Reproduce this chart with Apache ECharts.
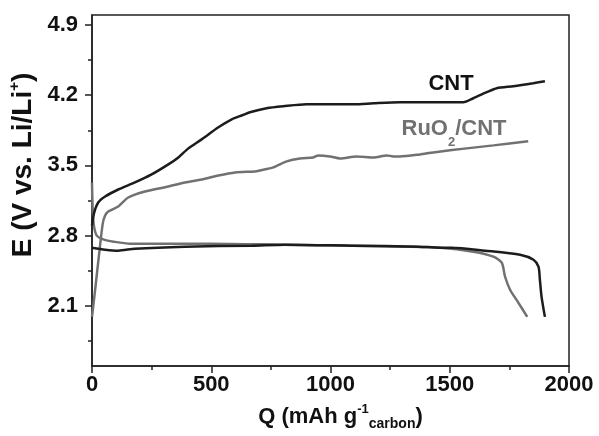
<!DOCTYPE html>
<html><head><meta charset="utf-8">
<script src="https://cdn.jsdelivr.net/npm/echarts@6/dist/echarts.min.js"></script>
<style>html,body{margin:0;padding:0;background:#fff}#c{width:599px;height:436px}</style>
</head><body><div id="c"></div>
<script>
// CNT charge (upper black curve)
const cntChargeQ = [0, 8, 26, 55, 110, 180, 250, 320, 362, 404, 460, 530, 586, 630, 662, 732, 802, 900, 1040, 1100, 1180, 1291, 1375, 1431, 1557, 1599, 1655, 1697, 1767, 1850, 1899];
const cntChargeE = [2.90, 3.02, 3.13, 3.19, 3.26, 3.33, 3.41, 3.51, 3.58, 3.67, 3.76, 3.88, 3.96, 4.00, 4.03, 4.07, 4.09, 4.11, 4.11, 4.11, 4.12, 4.13, 4.13, 4.13, 4.13, 4.17, 4.23, 4.27, 4.29, 4.32, 4.34];
// CNT discharge (lower black curve)
const cntDischargeQ = [0, 55, 110, 180, 390, 670, 810, 1089, 1368, 1459, 1508, 1648, 1795, 1851, 1872, 1878, 1885, 1899];
const cntDischargeE = [2.68, 2.66, 2.65, 2.67, 2.69, 2.70, 2.71, 2.70, 2.69, 2.68, 2.68, 2.65, 2.61, 2.56, 2.49, 2.36, 2.19, 1.99];
// RuO2/CNT charge (upper gray curve)
const ruChargeQ = [0, 15, 30, 45, 55, 68, 110, 152, 222, 320, 390, 460, 530, 600, 683, 704, 760, 816, 872, 928, 949, 998, 1040, 1110, 1180, 1236, 1263, 1291, 1375, 1431, 1571, 1683, 1829];
const ruChargeE = [1.99, 2.30, 2.62, 2.92, 3.00, 3.04, 3.09, 3.18, 3.24, 3.29, 3.33, 3.36, 3.40, 3.43, 3.44, 3.45, 3.48, 3.54, 3.57, 3.58, 3.60, 3.59, 3.57, 3.59, 3.58, 3.60, 3.59, 3.59, 3.61, 3.63, 3.67, 3.70, 3.74];
// RuO2/CNT discharge (lower gray curve)
const ruDischargeQ = [0, 3, 8, 20, 50, 90, 160, 300, 500, 800, 1100, 1300, 1459, 1599, 1683, 1718, 1732, 1753, 1788, 1825];
const ruDischargeE = [3.33, 3.05, 2.90, 2.80, 2.76, 2.74, 2.72, 2.72, 2.72, 2.71, 2.70, 2.69, 2.68, 2.64, 2.59, 2.53, 2.39, 2.26, 2.13, 1.99];

const yMajorTicks = [2.1, 2.8, 3.5, 4.2, 4.9];
const yMinorTicks = [1.75, 2.45, 3.15, 3.85, 4.55];

function zip(q, e) { return q.map((v, i) => [v, e[i]]); }

const FONT = '"Liberation Sans", Arial, Helvetica, sans-serif';
const AX = '#222';
const BLACK = '#1c1c1c';
const GRAY = '#717171';

const chart = echarts.init(document.getElementById('c'), null, { renderer: 'canvas' });
chart.setOption({
  animation: false,
  backgroundColor: '#fff',
  grid: { left: 92, right: 30, top: 15, bottom: 70, show: true, borderColor: AX, borderWidth: 1.5, backgroundColor: 'transparent' },
  xAxis: {
    type: 'value', min: 0, max: 2000, interval: 500,
    axisLine: { show: true, lineStyle: { color: AX, width: 1.5 } },
    axisTick: { show: true, length: 7, lineStyle: { color: AX, width: 1.5 } },
    minorTick: { show: true, splitNumber: 2, length: 4, lineStyle: { color: AX, width: 1.5 } },
    splitLine: { show: false },
    axisLabel: { formatter: v => String(v), fontFamily: FONT, fontWeight: 'bold', fontSize: 22, color: '#111', margin: 8 },
    name: '{a|Q (mAh g}{sup|-1}{sub|carbon}{a|)}',
    nameLocation: 'middle', nameGap: 37,
    nameTextStyle: {
      padding: [0, 0, 0, 20],
      rich: {
        a: { fontFamily: FONT, fontWeight: 'bold', fontSize: 22, color: '#111', lineHeight: 28 },
        sup: { fontFamily: FONT, fontWeight: 'bold', fontSize: 13, color: '#111', lineHeight: 16, verticalAlign: 'top' },
        sub: { fontFamily: FONT, fontWeight: 'bold', fontSize: 14, color: '#111', lineHeight: 14, verticalAlign: 'bottom' }
      }
    }
  },
  yAxis: [
    {
      type: 'value', min: 1.5, max: 5.0,
      axisLine: { show: true, lineStyle: { color: AX, width: 1.5 } },
      axisTick: { show: true, length: 7, customValues: yMajorTicks, lineStyle: { color: AX, width: 1.5 } },
      axisLabel: { customValues: yMajorTicks, formatter: v => v.toFixed(1), fontFamily: FONT, fontWeight: 'bold', fontSize: 22, color: '#111', margin: 14 },
      splitLine: { show: false }
    },
    {
      type: 'value', min: 1.5, max: 5.0, position: 'left',
      axisLine: { show: false },
      axisTick: { show: true, length: 4, customValues: yMinorTicks, lineStyle: { color: AX, width: 1.5 } },
      axisLabel: { show: false },
      splitLine: { show: false }
    }
  ],
  series: [
    { type: 'line', name: 'RuO2/CNT charge', data: zip(ruChargeQ, ruChargeE), showSymbol: false, smooth: 0.25, lineStyle: { color: GRAY, width: 2.5 }, itemStyle: { color: GRAY } },
    { type: 'line', name: 'RuO2/CNT discharge', data: zip(ruDischargeQ, ruDischargeE), showSymbol: false, smooth: 0.25, lineStyle: { color: GRAY, width: 2.5 }, itemStyle: { color: GRAY } },
    { type: 'line', name: 'CNT charge', data: zip(cntChargeQ, cntChargeE), showSymbol: false, smooth: 0.25, lineStyle: { color: BLACK, width: 2.5 }, itemStyle: { color: BLACK } },
    { type: 'line', name: 'CNT discharge', data: zip(cntDischargeQ, cntDischargeE), showSymbol: false, smooth: 0.25, lineStyle: { color: BLACK, width: 2.5 }, itemStyle: { color: BLACK } }
  ],
  graphic: [
    {
      type: 'text', x: 23, y: 165, rotation: Math.PI / 2,
      style: {
        text: '{a|E (V vs. Li/Li}{sup|+}{a|)}',
        align: 'center', verticalAlign: 'middle',
        rich: {
          a: { fontFamily: FONT, fontWeight: 'bold', fontSize: 28, fill: '#111', lineHeight: 32 },
          sup: { fontFamily: FONT, fontWeight: 'bold', fontSize: 15, fill: '#111', lineHeight: 18, verticalAlign: 'top' }
        }
      }
    },
    {
      type: 'text', x: 451, y: 84,
      style: { text: 'CNT', fontFamily: FONT, fontWeight: 'bold', fontSize: 22, fill: '#111', align: 'center', verticalAlign: 'middle' }
    },
    {
      type: 'text', x: 454, y: 129,
      style: {
        text: '{a|RuO}{sub|2}{a|/CNT}',
        align: 'center', verticalAlign: 'middle',
        rich: {
          a: { fontFamily: FONT, fontWeight: 'bold', fontSize: 22, fill: GRAY, lineHeight: 40 },
          sub: { fontFamily: FONT, fontWeight: 'bold', fontSize: 13, fill: GRAY, lineHeight: 12, verticalAlign: 'bottom' }
        }
      }
    }
  ]
});
</script>
</body></html>
